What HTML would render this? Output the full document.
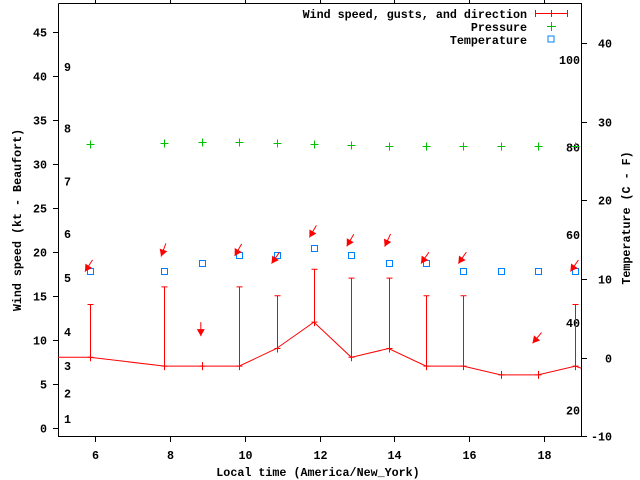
<!DOCTYPE html>
<html><head><meta charset="utf-8"><style>
html,body{margin:0;padding:0;background:#fff}
svg{display:block}
text{font-family:"Liberation Mono","DejaVu Sans Mono",monospace;font-weight:bold;font-size:11.7px;fill:#000}
</style></head><body>
<svg id="chart" width="640" height="480" viewBox="0 0 640 480" xmlns="http://www.w3.org/2000/svg">
<g id="axes"></g>
<g id="marks"></g>
<g id="legend">
<text x="527" y="18" text-anchor="end">Wind speed, gusts, and direction</text>
<text x="527" y="31" text-anchor="end">Pressure</text>
<text x="527" y="44" text-anchor="end">Temperature</text>
<g stroke="#f00" stroke-width="1"><line x1="535" y1="13.5" x2="568" y2="13.5"/><line x1="535.5" y1="10" x2="535.5" y2="17"/><line x1="567.5" y1="10" x2="567.5" y2="17"/><line x1="551.5" y1="10" x2="551.5" y2="17"/></g>
<g stroke="#00c000"><line x1="547" y1="26.5" x2="556" y2="26.5"/><line x1="551.5" y1="22" x2="551.5" y2="31"/></g>
<rect x="548" y="36" width="6" height="6" fill="none" stroke="#0080ff"/>
</g>
<text x="318" y="476" text-anchor="middle">Local time (America/New_York)</text>
<text transform="translate(21,220) rotate(-90)" text-anchor="middle">Wind speed (kt - Beaufort)</text>
<text transform="translate(630,218) rotate(-90)" text-anchor="middle">Temperature (C - F)</text>
</svg>
<script>
const times=[5.85,7.85,8.85,9.85,10.85,11.85,12.85,13.85,14.85,15.85,16.85,17.85,18.85];
const speed=[8,7,7,7,9,12,8,9,7,7,6,6,7];
const gusts=[14,16,null,16,15,18,17,17,15,15,null,null,14];
const pressure=[32.2,32.4,32.5,32.5,32.4,32.2,32.1,32.0,32.0,32.0,32.0,32.0,32.0];
const tempC=[11,11,12,13,13,14,13,12,12,11,11,11,11];
const arrowY=[18.4,20.2,11.2,20.2,19.3,22.3,21.3,21.3,19.3,19.3,null,10.2,18.4];
const arrowDir=[33,20,0,30,35,30,30,25,35,35,null,40,35];
const xTicks=[6,8,10,12,14,16,18];
const yTicks=[0,5,10,15,20,25,30,35,40,45];
const y2Ticks=[-10,0,10,20,30,40];
const beaufortLabels=["1","2","3","4","5","6","7","8","9"];
const beaufortY=[1,3.9,7,10.9,17,22,28,34,41];
const fahrLabels=["20","40","60","80","100"];
const fahrC=[-6.7,4.4,15.6,26.7,37.8];

const L=58,R=581,T=3,B=436;
const X=v=>L+(v-5)*(R-L)/14;
const Y=v=>427.7-v*8.8;
const Y2=v=>357.7-v*7.87;
const NS="http://www.w3.org/2000/svg";
function mk(tag,attrs,parent){const e=document.createElementNS(NS,tag);for(const k in attrs)e.setAttribute(k,attrs[k]);parent.appendChild(e);return e;}
const ax=document.getElementById('axes'),mg=document.getElementById('marks');

let frame=mk('path',{d:`M${L+.5},${T+.5}V${B+.5}H${R+.5}V${T+.5}H${L+.5}`,fill:'none',stroke:'#000'},ax);


xTicks.forEach(v=>{const x=Math.round(X(v))+.5;
 let t=mk('path',{d:`M${x},${B}v6M${x},${T}v-4`,stroke:'#000'},ax);
 
 
 let l=mk('text',{x:x,y:459,'text-anchor':'middle'},ax);l.textContent=v;
 
 });
yTicks.forEach(v=>{const y=Math.round(Y(v))+.5;
 let t=mk('path',{d:`M${L-5},${y}H${L}`,stroke:'#000'},ax);
 
 
 let l=mk('text',{x:47,y:y+4,'text-anchor':'end'},ax);l.textContent=v;
 
 });
y2Ticks.forEach(v=>{const y=Math.round(Y2(v))+.5;
 let t=mk('path',{d:`M${R},${y}H${R+6}`,stroke:'#000'},ax);
 
 
 let l=mk('text',{x:612,y:y+4,'text-anchor':'end'},ax);l.textContent=v;
 
 });
beaufortLabels.forEach((s,i)=>{let l=mk('text',{x:64,y:Y(beaufortY[i])+4},ax);l.textContent=s;
 
 });
fahrLabels.forEach((s,i)=>{let l=mk('text',{x:580,y:Y2(fahrC[i])+4,'text-anchor':'end'},ax);l.textContent=s;
 
 });

// speed line
let pts=[[L,Y(speed[0])]];times.forEach((t,i)=>pts.push([X(t),Y(speed[i])]));
pts.push([R,Y(speed[speed.length-1])+2]);
let line=mk('polyline',{points:pts.map(p=>p.join(',')).join(' '),fill:'none',stroke:'#f00'},mg);


times.forEach((t,i)=>{const x=Math.round(X(t))+.5,y=Y(speed[i]);
 let d=`M${x-3},${y}h6M${x},${y-4}v8`;
 if(gusts[i]!=null){const g=Y(gusts[i]);d+=`M${x},${y}V${g}M${x-3},${g}h6`;}
 let e=mk('path',{d:d,stroke:'#f00',fill:'none'},mg);
 
 });
// pressure
times.forEach((t,i)=>{const x=Math.round(X(t))+.5,y=Math.round(Y(pressure[i]))+.5;
 let e=mk('path',{d:`M${x-4},${y}h8M${x},${y-4}v8`,stroke:'#00c000'},mg);
 
 });
// temperature
times.forEach((t,i)=>{const x=Math.round(X(t))+.5,y=Math.round(Y2(tempC[i]))+.5;
 let e=mk('rect',{x:x-3,y:y-3,width:6,height:6,fill:'none',stroke:'#0080ff'},mg);
 
 });
// arrows
times.forEach((t,i)=>{if(arrowY[i]==null)return;const cx=X(t)-1,cy=Y(arrowY[i]);
 const a=arrowDir[i]*Math.PI/180,dx=-Math.sin(a),dy=Math.cos(a),len=14;
 const tx=cx-dx*len/2,ty=cy-dy*len/2,hx=cx+dx*len/2,hy=cy+dy*len/2;
 const px=-dy,py=dx,bx=hx-dx*7,by=hy-dy*7;
 let g=mk('g',{},mg);
 
 
 mk('line',{x1:tx,y1:ty,x2:hx,y2:hy,stroke:'#f00'},g);
 mk('polygon',{points:`${hx},${hy} ${bx+px*4},${by+py*4} ${bx-px*4},${by-py*4}`,fill:'#f00'},g);});
</script>
</body></html>
